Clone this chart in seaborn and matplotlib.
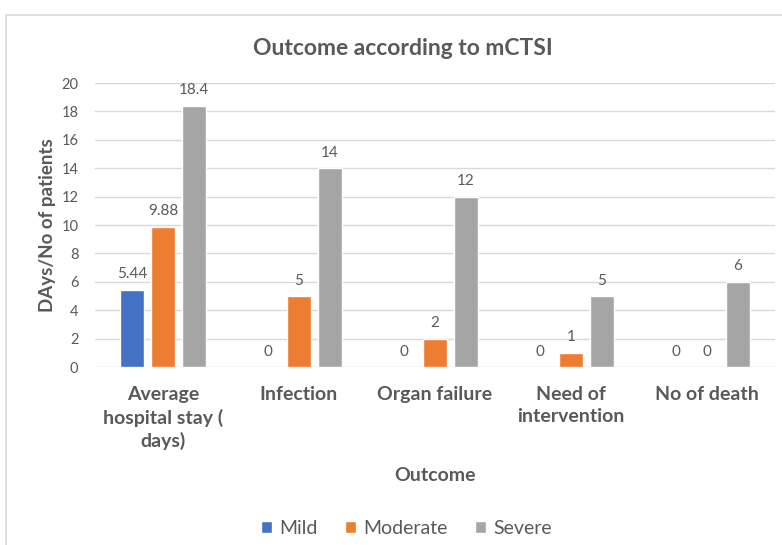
import pandas as pd
import matplotlib.pyplot as plt
import seaborn as sns
from matplotlib.patches import Rectangle

# values
outcomes = ["Average\nhospital stay (\ndays)", "Infection", "Organ failure",
            "Need of\nintervention", "No of death"]
mild = [5.44, 0, 0, 0, 0]
moderate = [9.88, 5, 2, 1, 0]
severe = [18.4, 14, 12, 5, 6]
groups = ["Mild", "Moderate", "Severe"]
colors = ["#4472C4", "#ED7D31", "#A5A5A5"]

df = pd.DataFrame({
    "Outcome": outcomes * 3,
    "Value": mild + moderate + severe,
    "Group": [g for g in groups for _ in outcomes],
})

sns.set_theme(style="white")
plt.rcParams["font.family"] = ["Lato", "DejaVu Sans"]
grey = "#595959"

fig = plt.figure(figsize=(7.82, 5.45), dpi=100)
ax = fig.add_axes([0.1215, 0.3266, 0.8695, 0.5211])

sns.barplot(data=df, x="Outcome", y="Value", hue="Group", hue_order=groups,
            palette=colors, width=0.684, gap=0.23, saturation=1, ax=ax)

for cont in ax.containers:
    ax.bar_label(cont, fmt="{:g}", padding=6, fontsize=11, color=grey)

ax.set_ylim(0, 20)
ax.set_yticks(range(0, 21, 2))
ax.set_xlim(-0.5, 4.5)
ax.yaxis.grid(True, color="#D9D9D9", linewidth=1)
ax.set_axisbelow(True)
for s in ax.spines.values():
    s.set_visible(False)
ax.tick_params(axis="y", labelsize=10.5, labelcolor=grey, length=0, pad=12)
ax.tick_params(axis="x", labelsize=14, labelcolor=grey, length=0, pad=14)
for lbl in ax.get_xticklabels():
    lbl.set_fontweight("bold")
    lbl.set_linespacing(1.35)

ax.set_ylabel("DAys/No of patients", fontsize=13.5, fontweight="bold", color=grey, labelpad=4)
ax.set_xlabel("Outcome", fontsize=14, fontweight="bold", color=grey, labelpad=12)

fig.suptitle("Outcome according to mCTSI", x=0.515, y=0.93, fontsize=16.5,
             fontweight="bold", color=grey)

ax.get_legend().remove()
handles, labels = ax.get_legend_handles_labels()
fig.legend(handles, labels, loc="center", bbox_to_anchor=(0.52, 0.03), ncol=3,
           frameon=False, fontsize=14, handlelength=0.55, handleheight=0.55,
           handletextpad=0.4, columnspacing=1.4, labelcolor=grey)

fig.patches.append(Rectangle((0.008, -0.02), 1.1, 0.9925, transform=fig.transFigure,
                             fill=False, edgecolor="#D9D9D9", linewidth=1.2))

fig.savefig("out.png", dpi=100)
